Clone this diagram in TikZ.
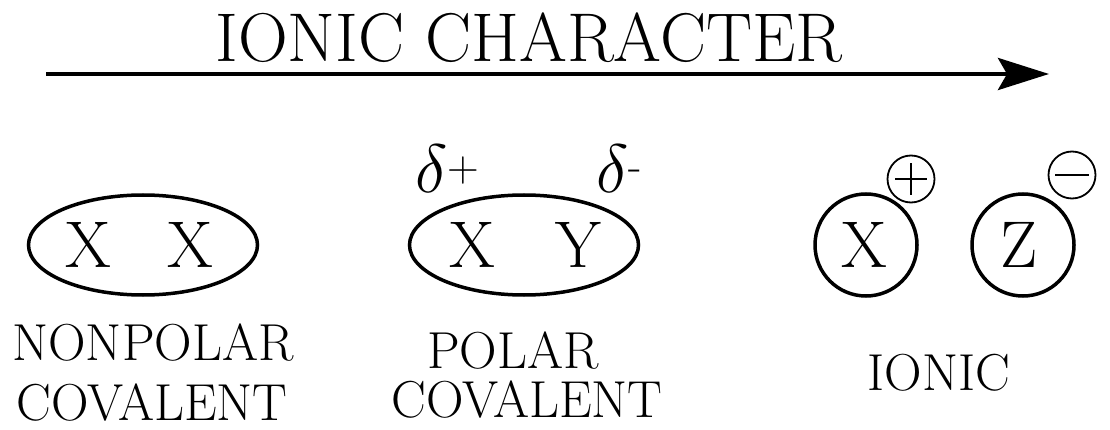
\documentclass[tikz,border=0pt]{standalone}
\usetikzlibrary{arrows.meta,positioning,shapes.geometric}
\newcommand{\bigdelta}{\scalebox{2.75}{$\delta$}}
\tikzset{
  % serif letters for atoms and labels
  titletxt/.style={font=\fontsize{69}{80}\selectfont, inner sep=0pt, anchor=base},
  atomtxt/.style={font=\fontsize{66}{80}\selectfont, inner sep=0pt, anchor=base},
  labeltxt/.style={font=\fontsize{52}{60}\selectfont, inner sep=0pt, anchor=base},
  deltatxt/.style={font=\fontsize{44}{52}\selectfont, inner sep=0pt, anchor=base west},
  % bond outlines
  bondell/.style={ellipse, draw, line width=3.5pt, minimum width=229pt, minimum height=100pt, inner sep=0pt},
  ionring/.style={circle, draw, line width=3.5pt, minimum size=102pt, inner sep=0pt},
  chargering/.style={circle, draw, line width=1.8pt, minimum size=47pt, inner sep=0pt},
  chargeln/.style={line width=2.2pt},
  % trend arrow
  trendarrow/.style={-{Stealth[length=51pt,width=32pt,inset=9pt]}, line width=4.5pt},
}

\begin{document}
\begin{tikzpicture}[x=1pt, y=-1pt]
  \useasboundingbox (0,0) rectangle (1110,430);
  % title and arrow
  \node[titletxt] (title) at (529,62) {IONIC CHARACTER};
  \coordinate (arrstart) at (46,74);
  \coordinate (arrend) at (1049,74);
  \draw[trendarrow] (arrstart) -- (arrend);

  % nonpolar covalent
  \node[bondell] (npbond) at (143,245) {};
  \node[atomtxt] (npx1) at (88,268) {X};
  \node[atomtxt] (npx2) at (190,268) {X};
  \node[labeltxt] (nplab1) at (153,360) {NONPOLAR};
  \node[labeltxt] (nplab2) at (152,420) {COVALENT};

  % polar covalent
  \node[bondell] (pbond) at (524,245) {};
  \node[atomtxt] (px) at (472,268) {X};
  \node[atomtxt] (py) at (578,268) {Y};
  \node[deltatxt] (pdplus) at (415,193) {\bigdelta\raisebox{11pt}{+}};
  \node[deltatxt] (pdminus) at (596,193) {\bigdelta\raisebox{12pt}{-}};
  \node[labeltxt] (plab1) at (513,368) {POLAR};
  \node[labeltxt] (plab2) at (527,417) {COVALENT};

  % ionic
  \node[ionring] (ionx) at (866,245) {};
  \node[ionring] (ionz) at (1023,245) {};
  \node[atomtxt] (ix) at (864,268) {X};
  \node[atomtxt] (iz) at (1019,268) {Z};
  \node[chargering] (xplus) at (911,179) {};
  \node[chargering] (zminus) at (1072,175) {};
  \draw[chargeln] ([xshift=-16pt]xplus.center) -- ([xshift=16pt]xplus.center);
  \draw[chargeln] ([yshift=-16pt]xplus.center) -- ([yshift=16pt]xplus.center);
  \draw[chargeln] ([xshift=-17pt]zminus.center) -- ([xshift=17pt]zminus.center);
  \node[labeltxt] (ilab) at (939,390) {IONIC};
\end{tikzpicture}
\end{document}
